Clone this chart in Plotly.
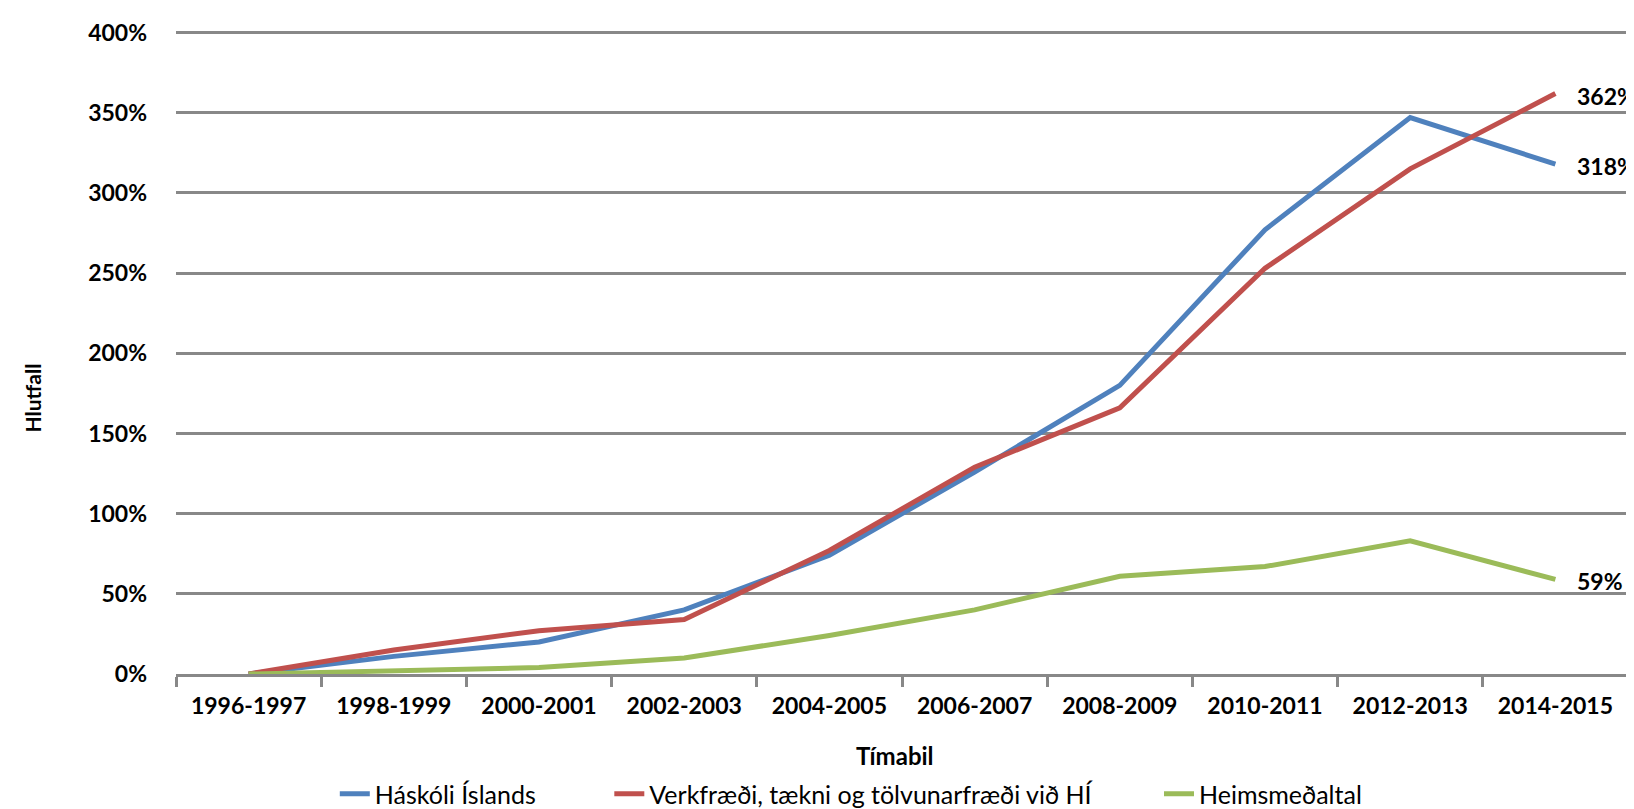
import plotly.graph_objects as go

periods = ["1996-1997", "1998-1999", "2000-2001", "2002-2003", "2004-2005",
           "2006-2007", "2008-2009", "2010-2011", "2012-2013", "2014-2015"]
haskoli = [0, 11, 20, 40, 74, 126, 180, 277, 347, 318]
verkfraedi = [0, 15, 27, 34, 77, 129, 166, 253, 315, 362]
heims = [0, 2, 4, 10, 24, 40, 61, 67, 83, 59]
y_ticks = [0, 50, 100, 150, 200, 250, 300, 350, 400]

series = [
    ("Háskóli Íslands", haskoli, "#4F81BD", "legend"),
    ("Verkfræði, tækni og tölvunarfræði við HÍ", verkfraedi, "#C0504D", "legend2"),
    ("Heimsmeðaltal", heims, "#9BBB59", "legend3"),
]

FONT = "Lato, 'Open Sans', Arial, sans-serif"

fig = go.Figure()
annotations = []
for name, vals, col, leg in series:
    fig.add_trace(go.Scatter(
        x=periods, y=vals, name=name, mode="lines",
        line=dict(color=col, width=5),
        legend=leg,
    ))
    annotations.append(dict(
        x=periods[-1], y=vals[-1], xref="x", yref="y",
        text=f"{vals[-1]}%", showarrow=False,
        xanchor="left", yanchor="middle", xshift=20, yshift=-2,
        font=dict(family=FONT, size=23, color="#000000", weight="bold"),
    ))

annotations += [
    dict(text="Tímabil", xref="paper", yref="paper", x=0.495, y=-0.126,
         xanchor="center", yanchor="middle", showarrow=False,
         font=dict(size=24, family=FONT, weight="bold", color="#000000")),
    dict(text="Hlutfall", xref="paper", yref="paper", x=-0.0985, y=0.43,
         xanchor="center", yanchor="middle", showarrow=False, textangle=-90,
         font=dict(size=21, family=FONT, weight="bold", color="#000000")),
]

leg_common = dict(orientation="h", xref="container", yref="container",
                  xanchor="left", yanchor="bottom", y=-0.008,
                  font=dict(size=25, family=FONT, color="#000000"),
                  bgcolor="rgba(0,0,0,0)")

fig.update_layout(
    width=1634, height=809,
    margin=dict(l=168, r=14, t=23, b=143, autoexpand=False),
    plot_bgcolor="white", paper_bgcolor="white",
    font=dict(family=FONT, color="#000000"),
    showlegend=True,
    legend=dict(x=0.200, **leg_common),
    legend2=dict(x=0.368, **leg_common),
    legend3=dict(x=0.7044, **leg_common),
    xaxis=dict(
        type="category", tickson="boundaries", ticks="outside", ticklen=10,
        tickcolor="#888888", tickwidth=2.5,
        showline=True, linecolor="#888888", linewidth=2.5,
        showgrid=False,
        tickfont=dict(size=23, family=FONT, weight="bold", color="#000000"),
        ticklabelstandoff=10,
        range=[-0.5, 9.5],
    ),
    yaxis=dict(
        range=[0, 401], tickmode="array", tickvals=y_ticks,
        ticktext=[f"{v}%" for v in y_ticks],
        showgrid=True, gridcolor="#888888", gridwidth=2.5,
        zeroline=False, showline=False,
        tickfont=dict(size=23, family=FONT, weight="bold", color="#000000"),
        ticks="", ticklabelstandoff=28,
    ),
    annotations=annotations,
)

fig.write_html("out.html")
